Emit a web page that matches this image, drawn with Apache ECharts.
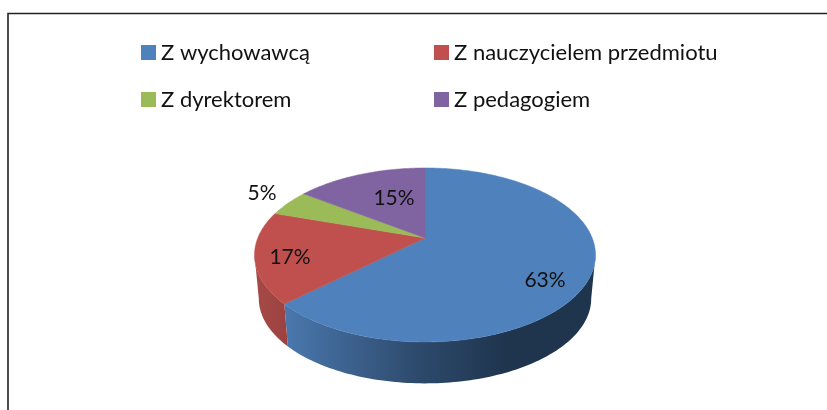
<!DOCTYPE html>
<html>
<head>
<meta charset="utf-8">
<title>Wykres</title>
<style>
	html, body { margin: 0; padding: 0; background: #fff; }
	#main { width: 827px; height: 410px; }
</style>
<script src="https://cdn.jsdelivr.net/npm/echarts@6/dist/echarts.min.js"></script>
</head>
<body>
<div id="main"></div>
<script>
// dane
var categories = ["Z wychowawcą", "Z nauczycielem przedmiotu", "Z dyrektorem", "Z pedagogiem"];
var values = [63, 17, 5, 15];

var topColors = ["#4f81bd", "#c0504d", "#9bbb59", "#8064a2"];
var wallStops = [
	[[0, "#4a78ae"], [0.43, "#2d4a6c"], [0.72, "#1f344d"], [1, "#1f344d"]],
	[[0, "#a84a47"], [1, "#9a4240"]],
	[[0, "#7d9647"], [1, "#7d9647"]],
	[[0, "#665082"], [1, "#665082"]]
];
// polozenie etykiet wzgledem srodka kola
var labelOffsets = [[120, 42], [-135, 19], [-163, -45], [-31, -40]];

var fontName = "Lato";
var total = values.reduce(function (a, b) { return a + b; }, 0);

// rzut kola w perspektywie (k - sila perspektywy)
var k = 0.195, radiusX = 167.2, radiusY = 83.7;
var topCenter = [425, 238], bottomCenter = [425, 282], bottomScale = 0.975;

// sciana boczna widoczna tylko od prawego do lewego skraju elipsy
var wallFrom = Math.acos(-k) / (Math.PI * 2);
var wallTo = 1 - wallFrom;

function project(frac, center, scale) {
	var t = frac * Math.PI * 2;
	var u = Math.sin(t), v = -Math.cos(t);
	var d = 1 - k * v;
	return [center[0] + radiusX * scale * u / d, center[1] + radiusY * scale * v / d];
}

function rim(from, to, center, scale) {
	var pts = [];
	var n = Math.max(2, Math.ceil((to - from) * 300));
	for (var i = 0; i <= n; i++) {
		pts.push(project(from + (to - from) * i / n, center, scale));
	}
	return pts;
}

function startOf(index) {
	var sum = 0;
	for (var i = 0; i < index; i++) {
		sum += values[i];
	}
	return sum / total;
}

function makeRender(index) {
	return function (params, api) {
		var from = startOf(index);
		var to = from + api.value(0) / total;
		var color = topColors[index];
		var offset = labelOffsets[index];
		var children = [];

		var a = Math.max(from, wallFrom), b = Math.min(to, wallTo);
		if (a < b) {
			var upper = rim(a, b, topCenter, 1);
			var lower = rim(a, b, bottomCenter, bottomScale);
			var xs = upper.concat(lower).map(function (p) { return p[0]; });
			children.push({
				type: "polygon",
				z2: 1,
				shape: { points: upper.concat(lower.slice().reverse()) },
				style: {
					fill: {
						type: "linear", global: true,
						x: Math.min.apply(null, xs), y: 0,
						x2: Math.max.apply(null, xs), y2: 0,
						colorStops: wallStops[index].map(function (s) {
							return { offset: s[0], color: s[1] };
						})
					}
				}
			});
		}
		children.push({
			type: "polygon",
			z2: 10,
			shape: { points: [topCenter].concat(rim(from, to, topCenter, 1)) },
			style: { fill: color, stroke: color, lineWidth: 0.5 }
		});
		children.push({
			type: "text",
			z2: 20,
			style: {
				text: api.value(0) + "%",
				x: topCenter[0] + offset[0],
				y: topCenter[1] + offset[1],
				fill: "#111",
				font: "21px " + fontName,
				textAlign: "center",
				textVerticalAlign: "middle"
			}
		});
		return { type: "group", children: children };
	};
}

var seriesList = categories.map(function (name, i) {
	return {
		name: name,
		type: "custom",
		coordinateSystem: "none",
		renderItem: makeRender(i),
		itemStyle: { color: topColors[i] },
		data: [[values[i]]],
		animation: false,
		silent: true
	};
});

function legendAt(left, names) {
	return {
		orient: "vertical",
		left: left,
		top: 41,
		padding: 0,
		itemWidth: 15,
		itemHeight: 15,
		itemGap: 24,
		icon: "rect",
		selectedMode: false,
		textStyle: { fontFamily: fontName, fontSize: 22, color: "#111", lineHeight: 23 },
		data: names
	};
}

var myChart = echarts.init(document.getElementById("main"));
myChart.setOption({
	animation: false,
	backgroundColor: "#fff",
	legend: [
		legendAt(141, [categories[0], categories[2]]),
		legendAt(434, [categories[1], categories[3]])
	],
	graphic: [{
		type: "polyline",
		silent: true,
		shape: { points: [[8, 410], [8, 13.5], [827, 13.5]] },
		style: { fill: null, stroke: "#222", lineWidth: 1.6 }
	}],
	series: seriesList
});
</script>
</body>
</html>
